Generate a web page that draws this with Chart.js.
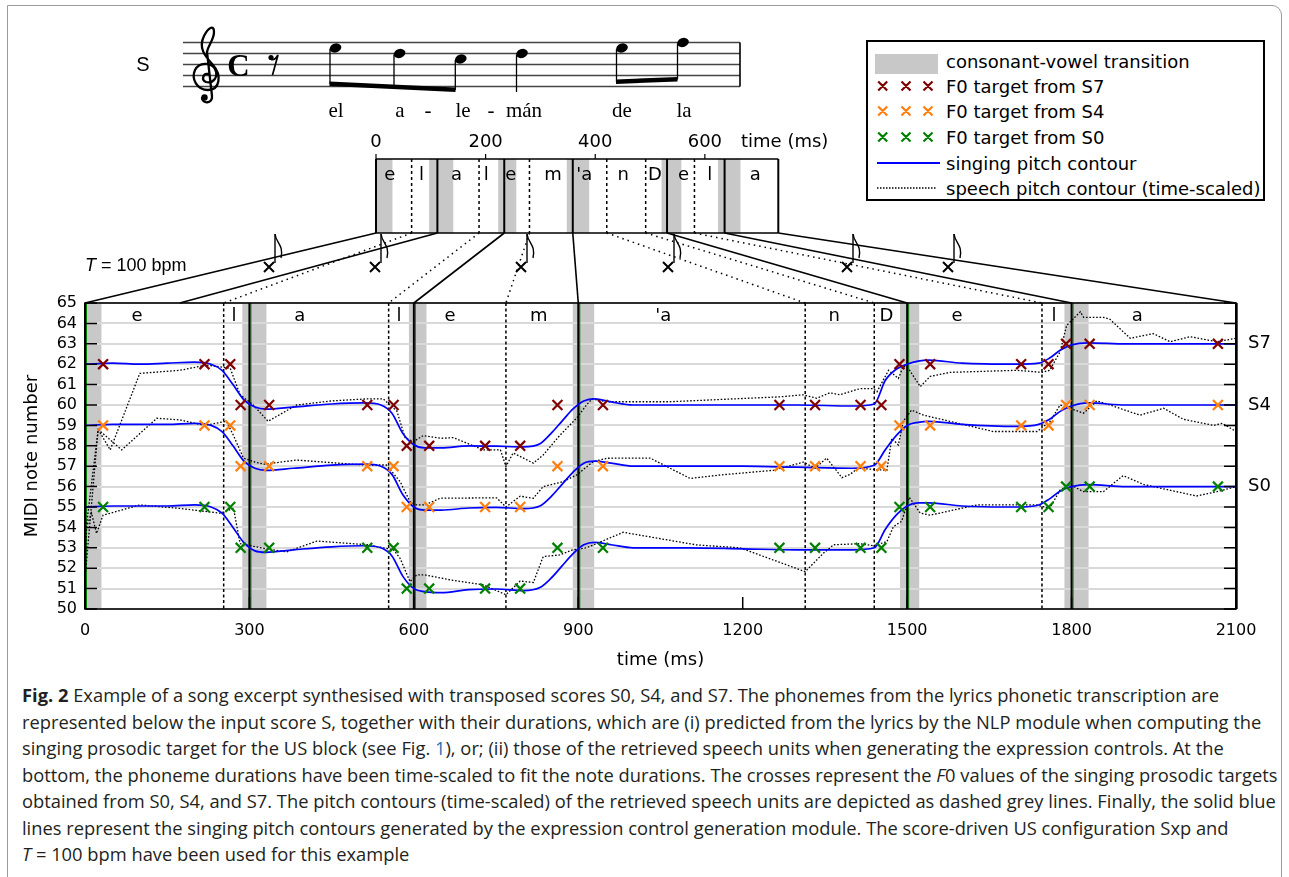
<!DOCTYPE html>
<html><head><meta charset="utf-8">
<script src="https://cdn.jsdelivr.net/npm/chart.js@4.4.1/dist/chart.umd.min.js"></script>
<style>
html,body{margin:0;padding:0;background:#fff;}
body{width:1289px;height:877px;position:relative;overflow:hidden;font-family:'DejaVu Sans',sans-serif;}
#frame{position:absolute;left:7px;top:5px;width:1275px;height:900px;border:1px solid #9a9a9a;border-top-right-radius:10px;box-sizing:border-box;}
#chart{position:absolute;left:0;top:0;}
#score{position:absolute;left:0;top:0;}
#legend{position:absolute;left:866px;top:40px;width:399px;height:161px;border:2px solid #000;box-sizing:border-box;background:#fff;}
#legend svg{position:absolute;left:0;top:0;}
#tempo{position:absolute;left:85px;top:254px;font-family:'Liberation Sans',Arial,sans-serif;font-size:18px;line-height:22px;white-space:nowrap;color:#000;}
#caption{position:absolute;left:22px;top:682px;font-family:'Open Sans',sans-serif;color:#231f20;font-size:15.5px;}
.cl{white-space:nowrap;height:26.5px;line-height:26.5px;}
.lnk{color:#2a6ebb;}
</style>
</head>
<body>
<div id="frame"></div>
<canvas id="chart" width="1289" height="680"></canvas>

<svg id="score" width="760" height="125" viewBox="0 0 760 125">
  <text x="143" y="64" font-family="Liberation Sans, Arial, sans-serif" font-size="20" text-anchor="middle" dominant-baseline="central">S</text>
  <g stroke="#444" stroke-width="1.3">
    <line x1="183" y1="42.5" x2="740" y2="42.5"/>
    <line x1="183" y1="53.5" x2="740" y2="53.5"/>
    <line x1="183" y1="64.5" x2="740" y2="64.5"/>
    <line x1="183" y1="75.5" x2="740" y2="75.5"/>
    <line x1="183" y1="86.5" x2="740" y2="86.5"/>
  </g>
  <line x1="740" y1="42.5" x2="740" y2="86.5" stroke="#000" stroke-width="1.6"/>
  <!-- treble clef -->
  <path d="M 208 74 C 203 73, 201 80, 206 82 C 213 84, 219 77, 215 69 C 211 62, 199 62, 195 70 C 191 79, 197 90, 208 90 C 220 90, 222 75, 213 65 C 205 56, 198 48, 204 36 C 208 28, 214 24, 214 32 C 214 40, 208 45, 207 52 L 212 96 C 213 104, 202 104, 202 98" fill="none" stroke="#000" stroke-width="2.3" stroke-linecap="round"/>
  <circle cx="204.5" cy="97.5" r="3.2" fill="#000"/>
  <text x="238.5" y="65" font-family="Liberation Serif, serif" font-weight="bold" font-size="31" text-anchor="middle" dominant-baseline="central">C</text>
  <!-- eighth rest -->
  <circle cx="271" cy="57.5" r="2.6" fill="#000"/>
  <path d="M 271 59.5 Q 275 60.5 278 55 L 272.5 75" fill="none" stroke="#000" stroke-width="1.7"/>
  <!-- notes -->
  <g fill="#000">
    <ellipse cx="335.5" cy="48" rx="6" ry="4.4" transform="rotate(-20 335.5 48)"/>
    <ellipse cx="399.6" cy="53.5" rx="6" ry="4.4" transform="rotate(-20 399.6 53.5)"/>
    <ellipse cx="460.8" cy="59" rx="6" ry="4.4" transform="rotate(-20 460.8 59)"/>
    <ellipse cx="522" cy="53.5" rx="6" ry="4.4" transform="rotate(-20 522 53.5)"/>
    <ellipse cx="622" cy="48" rx="6" ry="4.4" transform="rotate(-20 622 48)"/>
    <ellipse cx="683" cy="42.5" rx="6" ry="4.4" transform="rotate(-20 683 42.5)"/>
    <polygon points="329.5,81.5 455.5,87.5 455.5,92 329.5,86"/>
    <polygon points="616,79.5 677.5,77 677.5,81.5 616,84"/>
  </g>
  <g stroke="#000" stroke-width="1.3">
    <line x1="330" y1="49" x2="330" y2="84"/>
    <line x1="394" y1="54.5" x2="394" y2="87"/>
    <line x1="455.3" y1="60" x2="455.3" y2="90"/>
    <line x1="516.5" y1="54.5" x2="516.5" y2="92"/>
    <line x1="616.5" y1="49" x2="616.5" y2="82"/>
    <line x1="677.5" y1="43.5" x2="677.5" y2="79.5"/>
  </g>
  <g font-family="Liberation Serif, 'Times New Roman', serif" font-size="21" text-anchor="middle" dominant-baseline="central">
    <text x="336" y="110">el</text>
    <text x="400" y="110">a</text>
    <text x="428" y="110">-</text>
    <text x="463" y="110">le</text>
    <text x="491" y="110">-</text>
    <text x="524" y="110">mán</text>
    <text x="622" y="110">de</text>
    <text x="684" y="110">la</text>
  </g>
</svg>

<div id="tempo"><i>T</i> = 100 bpm</div>

<div id="legend">
  <svg width="395" height="157" viewBox="0 0 395 157">
    <rect x="7" y="12" width="63" height="20" fill="#c8c8c8"/>
    <g stroke-width="2.2" fill="none">
      <path d="M10.2 39.5 L19.2 48.5 M19.2 39.5 L10.2 48.5 M33.5 39.5 L42.5 48.5 M42.5 39.5 L33.5 48.5 M55.5 39.5 L64.5 48.5 M64.5 39.5 L55.5 48.5" stroke="#800000"/>
      <path d="M10.2 64.5 L19.2 73.5 M19.2 64.5 L10.2 73.5 M33.5 64.5 L42.5 73.5 M42.5 64.5 L33.5 73.5 M55.5 64.5 L64.5 73.5 M64.5 64.5 L55.5 73.5" stroke="#ff7f0e"/>
      <path d="M10.2 90.5 L19.2 99.5 M19.2 90.5 L10.2 99.5 M33.5 90.5 L42.5 99.5 M42.5 90.5 L33.5 99.5 M55.5 90.5 L64.5 99.5 M64.5 90.5 L55.5 99.5" stroke="#008000"/>
    </g>
    <line x1="9" y1="121" x2="72" y2="121" stroke="#0000ff" stroke-width="1.8"/>
    <line x1="9" y1="146" x2="69" y2="146" stroke="#000" stroke-width="1.3" stroke-dasharray="1.5,1.5"/>
    <g font-family="DejaVu Sans, sans-serif" font-size="18" fill="#000" dominant-baseline="central">
      <text x="78" y="19">consonant-vowel transition</text>
      <text x="78" y="44">F0 target from S7</text>
      <text x="78" y="69">F0 target from S4</text>
      <text x="78" y="95">F0 target from S0</text>
      <text x="78" y="121">singing pitch contour</text>
      <text x="78" y="146">speech pitch contour (time-scaled)</text>
    </g>
  </svg>
</div>

<div id="caption">
  <div class="cl"><b>Fig. 2</b> Example of a song excerpt synthesised with transposed scores S0, S4, and S7. The phonemes from the lyrics phonetic transcription are</div>
  <div class="cl" id="cl2">represented below the input score S, together with their durations, which are (i) predicted from the lyrics by the NLP module when computing the</div>
  <div class="cl">singing prosodic target for the US block (see Fig. <span class="lnk">1</span>), or; (ii) those of the retrieved speech units when generating the expression controls. At the</div>
  <div class="cl">bottom, the phoneme durations have been time-scaled to fit the note durations. The crosses represent the <i>F</i>0 values of the singing prosodic targets</div>
  <div class="cl">obtained from S0, S4, and S7. The pitch contours (time-scaled) of the retrieved speech units are depicted as dashed grey lines. Finally, the solid blue</div>
  <div class="cl">lines represent the singing pitch contours generated by the expression control generation module. The score-driven US configuration Sxp and</div>
  <div class="cl"><i>T</i> = 100 bpm have been used for this example</div>
</div>

<script>
// ---------------- DATA ----------------
const seriesNames = ['S7', 'S4', 'S0'];

// F0 targets (crosses)
const targetTimesMs = [33, 218, 265, 284, 336, 515, 563, 587, 628, 730, 794, 862, 945, 1267, 1332, 1415, 1453, 1486, 1542, 1708, 1758, 1790, 1833, 2067];
const targetS7 = [62, 62, 62, 60, 60, 60, 60, 58, 58, 58, 58, 60, 60, 60, 60, 60, 60, 62, 62, 62, 62, 63, 63, 63];
const targetS4 = [59, 59, 59, 57, 57, 57, 57, 55, 55, 55, 55, 57, 57, 57, 57, 57, 57, 59, 59, 59, 59, 60, 60, 60];
const targetS0 = [55, 55, 55, 53, 53, 53, 53, 51, 51, 51, 51, 53, 53, 53, 53, 53, 53, 55, 55, 55, 55, 56, 56, 56];

// singing pitch contours (blue)
const singTimesMs = [0, 50, 100, 150, 200, 230, 250, 270, 290, 310, 330, 380, 450, 510, 540, 560, 580, 600, 620, 650, 700, 750, 800, 830, 850, 870, 890, 910, 930, 960, 1000, 1100, 1200, 1300, 1400, 1440, 1460, 1480, 1500, 1520, 1540, 1600, 1700, 1740, 1760, 1780, 1800, 1830, 1900, 2000, 2100];
const singS7 = [62.0, 62.05, 62.0, 62.05, 62.1, 62.0, 61.7, 61.0, 60.25, 59.9, 59.8, 59.9, 60.05, 60.1, 60.0, 59.6, 58.6, 58.05, 57.9, 57.9, 58.0, 57.98, 57.95, 58.1, 58.6, 59.2, 59.8, 60.2, 60.3, 60.15, 60.0, 60.0, 60.0, 60.0, 59.95, 60.05, 61.2, 61.75, 62.0, 62.15, 62.2, 62.05, 62.0, 62.05, 62.3, 62.7, 62.95, 63.05, 63.0, 63.0, 63.0];
const singS4 = [59.0, 59.05, 59.05, 59.05, 59.1, 59.0, 58.7, 58.0, 57.25, 56.9, 56.8, 56.9, 57.05, 57.1, 57.0, 56.6, 55.6, 55.0, 54.85, 54.85, 54.95, 54.98, 54.92, 55.05, 55.5, 56.1, 56.7, 57.15, 57.25, 57.15, 57.0, 57.0, 57.0, 56.95, 56.9, 57.05, 57.8, 58.5, 59.0, 59.15, 59.2, 59.05, 58.95, 59.05, 59.3, 59.7, 59.95, 60.1, 60.0, 60.0, 60.0];
const singS0 = [55.0, 55.05, 55.05, 55.05, 55.1, 55.0, 54.7, 54.0, 53.25, 52.85, 52.78, 52.9, 53.05, 53.1, 53.0, 52.6, 51.6, 51.0, 50.85, 50.8, 50.95, 50.98, 50.9, 51.05, 51.5, 52.1, 52.7, 53.15, 53.27, 53.15, 53.0, 53.0, 52.95, 52.9, 52.9, 53.0, 53.9, 54.6, 55.05, 55.2, 55.2, 55.05, 55.0, 55.1, 55.4, 55.8, 56.0, 56.1, 56.0, 56.0, 56.0];

// speech pitch contours (time-scaled, dotted)
const speechTimesS7 = [0, 24, 46, 100, 173, 222, 265, 283, 307, 334, 386, 450, 514, 544, 569, 584, 599, 617, 650, 672, 727, 758, 768, 781, 818, 836, 866, 897, 915, 925, 952, 1067, 1268, 1310, 1335, 1359, 1377, 1414, 1438, 1445, 1466, 1484, 1493, 1502, 1524, 1542, 1578, 1700, 1746, 1760, 1779, 1791, 1804, 1816, 1822, 1858, 1870, 1907, 1949, 1980, 2016, 2065, 2100];
const speechS7 = [51.5, 58.8, 57.8, 61.55, 61.7, 61.96, 61.8, 60.5, 60.0, 59.2, 60.0, 60.2, 60.3, 60.3, 59.7, 58.4, 58.2, 58.5, 58.37, 58.4, 57.8, 57.8, 56.98, 57.65, 57.15, 57.55, 58.5, 59.36, 60.0, 60.3, 60.16, 60.16, 60.4, 60.5, 60.33, 60.6, 60.5, 60.8, 60.8, 60.65, 61.7, 61.3, 61.9, 61.8, 60.9, 61.4, 61.6, 61.7, 61.6, 61.7, 62.6, 63.9, 64.25, 64.57, 64.3, 64.3, 64.2, 63.27, 63.5, 63.1, 63.35, 63.1, 63.27];
const speechTimesS4 = [0, 24, 67, 131, 173, 218, 258, 271, 289, 310, 327, 386, 508, 550, 575, 593, 605, 620, 648, 751, 768, 794, 818, 836, 872, 897, 927, 952, 1031, 1104, 1159, 1256, 1311, 1332, 1353, 1381, 1396, 1410, 1463, 1472, 1484, 1493, 1508, 1530, 1578, 1657, 1737, 1761, 1779, 1822, 1846, 1870, 1925, 1968, 2004, 2059, 2075, 2100];
const speechS4 = [53.5, 58.8, 57.8, 59.35, 59.27, 59.0, 59.2, 58.5, 57.4, 57.2, 57.1, 57.3, 57.06, 57.06, 56.24, 55.26, 55.1, 55.1, 55.43, 55.45, 55.0, 55.53, 55.43, 56.0, 56.24, 56.57, 57.22, 57.39, 57.4, 56.4, 56.57, 56.8, 57.2, 56.9, 57.4, 56.44, 56.6, 56.9, 56.8, 58.37, 58.04, 59.2, 59.75, 59.5, 59.2, 58.7, 58.7, 59.2, 60.0, 59.6, 60.2, 60.0, 59.5, 59.84, 59.3, 59.0, 59.1, 58.7];
const speechTimesS0 = [0, 3, 12, 21, 33, 100, 173, 246, 271, 283, 327, 368, 423, 514, 563, 575, 593, 605, 620, 672, 727, 768, 794, 818, 836, 866, 890, 915, 982, 1116, 1195, 1314, 1347, 1366, 1414, 1438, 1463, 1475, 1490, 1504, 1524, 1542, 1627, 1737, 1760, 1779, 1797, 1822, 1858, 1894, 1932, 2028, 2065, 2100];
const speechS0 = [51.5, 54.04, 54.7, 53.7, 54.6, 55.1, 54.93, 54.7, 54.93, 53.2, 52.97, 52.8, 53.33, 53.15, 52.9, 52.48, 51.34, 51.67, 51.67, 51.4, 51.18, 50.7, 51.37, 51.3, 52.57, 52.65, 52.9, 53.0, 53.76, 53.14, 53.0, 51.83, 52.73, 53.15, 53.2, 53.1, 53.3, 54.04, 54.3, 55.47, 54.7, 54.6, 55.1, 55.1, 54.93, 55.83, 56.1, 55.75, 55.75, 56.54, 56.1, 55.54, 55.75, 56.0];

// time-scaled phoneme segmentation (main plot)
const noteOnsetsMs = [0, 300, 600, 900, 1500, 1800, 2100];
const phonemeBoundsMs = [253, 554, 768, 1314, 1440, 1746];
const cvBandStartMs = [0, 287, 591, 890, 1487, 1787];
const cvBandEndMs = [30, 331, 623, 929, 1522, 1831];
const phonemeLabels = ['e', 'l', 'a', 'l', 'e', 'm', "'a", 'n', 'D', 'e', 'l', 'a'];
const phonemeLabelMs = [95, 272, 392, 573, 666, 828, 1055, 1367, 1462, 1591, 1768, 1920];

// original (speech) phoneme durations box
const boxSegBoundsMs = [0, 112, 234, 359, 531, 636, 734];
const boxPhonBoundsMs = [65, 188, 280, 421, 492, 581];
const boxBandStartMs = [0, 97, 112, 223, 234, 348, 359, 521, 532, 624, 635];
const boxBandEndMs = [30, 112, 141, 234, 256, 359, 389, 532, 557, 635, 665];
const boxLabelMs = [25, 83, 147, 201, 246, 323, 380, 451, 509, 561, 609, 692];
const boxTickMs = [0, 200, 400, 600];
// links from the box to the time-scaled plot
const solidLinkToMs = [0, 173, 600, 900, 1500, 1800, 2100];
const dottedLinkToMs = [253, 554, 768, 1314, 1440, 1746];

// axis ticks
const yMin = 50, yMax = 65, xMin = 0, xMax = 2100, xStep = 300;

// ---------------- LAYOUT CONSTANTS ----------------
const BOX_LEFT = 376, BOX_TOP = 159, BOX_BOTTOM = 233;
const NOTE_SYM_X = [269, 375, 521, 668, 847, 948], NOTE_SYM_Y = 267;

const colT = ['#800000', '#ff7f0e', '#008000'];
const targets = [targetS7, targetS4, targetS0];
const sings = [singS7, singS4, singS0];
const speeches = [[speechTimesS7, speechS7], [speechTimesS4, speechS4], [speechTimesS0, speechS0]];

const datasets = [];
targets.forEach((vals, i) => datasets.push({
  label: 'F0 target from ' + seriesNames[i],
  data: targetTimesMs.map((t, j) => ({x: t, y: vals[j]})),
  showLine: false, pointStyle: 'crossRot', pointRadius: 7, pointBorderWidth: 2.2,
  borderColor: colT[i], backgroundColor: colT[i], pointBorderColor: colT[i], order: 0
}));
sings.forEach((vals, i) => datasets.push({
  label: 'singing ' + seriesNames[i],
  data: singTimesMs.map((t, j) => ({x: t, y: vals[j]})),
  borderColor: '#0000ff', borderWidth: 1.7, pointRadius: 0,
  cubicInterpolationMode: 'monotone', fill: false, order: 1
}));
speeches.forEach((pair, i) => datasets.push({
  label: 'speech ' + seriesNames[i],
  data: pair[0].map((t, j) => ({x: t, y: pair[1][j]})),
  borderColor: '#000', borderWidth: 1.3, borderDash: [1.6, 1.8], pointRadius: 0,
  tension: 0, fill: false, order: 2
}));

const decoPlugin = {
  id: 'deco',
  beforeDraw(chart) {
    const ctx = chart.ctx, a = chart.chartArea, X = v => chart.scales.x.getPixelForValue(v);
    ctx.save();
    ctx.fillStyle = '#c8c8c8';
    cvBandStartMs.forEach((s, i) => ctx.fillRect(X(s), a.top, X(cvBandEndMs[i]) - X(s), a.bottom - a.top));
    ctx.restore();
  },
  beforeDatasetsDraw(chart) {
    const ctx = chart.ctx, a = chart.chartArea, X = v => chart.scales.x.getPixelForValue(v);
    ctx.save();
    ctx.strokeStyle = '#000'; ctx.lineWidth = 1.5; ctx.setLineDash([3, 2.5]);
    phonemeBoundsMs.forEach(ms => { ctx.beginPath(); ctx.moveTo(X(ms), a.top); ctx.lineTo(X(ms), a.bottom); ctx.stroke(); });
    ctx.setLineDash([]);
    ctx.strokeStyle = '#008000'; ctx.lineWidth = 1;
    noteOnsetsMs.forEach(ms => { ctx.beginPath(); ctx.moveTo(X(ms) + 1.5, a.top); ctx.lineTo(X(ms) + 1.5, a.bottom); ctx.stroke(); });
    ctx.strokeStyle = '#000'; ctx.lineWidth = 2;
    noteOnsetsMs.forEach(ms => { ctx.beginPath(); ctx.moveTo(X(ms), a.top); ctx.lineTo(X(ms), a.bottom); ctx.stroke(); });
    ctx.restore();
  },
  afterDatasetsDraw(chart) {
    const ctx = chart.ctx, a = chart.chartArea;
    const X = v => chart.scales.x.getPixelForValue(v), Y = v => chart.scales.y.getPixelForValue(v);
    ctx.save();
    // inside ticks
    ctx.strokeStyle = '#000'; ctx.lineWidth = 1.5;
    for (let v = yMin; v <= yMax; v++) {
      ctx.beginPath(); ctx.moveTo(a.left, Y(v)); ctx.lineTo(a.left + 12, Y(v));
      ctx.moveTo(a.right, Y(v)); ctx.lineTo(a.right - 12, Y(v)); ctx.stroke();
    }
    for (let t = xMin; t <= xMax; t += xStep) {
      ctx.beginPath(); ctx.moveTo(X(t), a.bottom); ctx.lineTo(X(t), a.bottom - 12); ctx.stroke();
    }
    // frame
    ctx.lineWidth = 1.6;
    ctx.strokeRect(a.left, a.top, a.right - a.left, a.bottom - a.top);
    // phoneme labels
    ctx.fillStyle = '#000'; ctx.font = '18px "DejaVu Sans"'; ctx.textAlign = 'center'; ctx.textBaseline = 'middle';
    phonemeLabels.forEach((p, i) => ctx.fillText(p, X(phonemeLabelMs[i]), a.top + 13));
    // series labels
    ctx.textAlign = 'left';
    sings.forEach((vals, i) => ctx.fillText(seriesNames[i], a.right + 12, Y(vals[vals.length - 1])));
    ctx.restore();
  },
  afterDraw(chart) {
    const ctx = chart.ctx, a = chart.chartArea, X = v => chart.scales.x.getPixelForValue(v);
    const k = (X(xMax) - X(xMin)) / (xMax - xMin);
    const bx = ms => BOX_LEFT + ms * k;
    ctx.save();
    // box bands
    ctx.fillStyle = '#c8c8c8';
    boxBandStartMs.forEach((s, i) => ctx.fillRect(bx(s), BOX_TOP, bx(boxBandEndMs[i]) - bx(s), BOX_BOTTOM - BOX_TOP));
    // dashed phoneme boundaries
    ctx.strokeStyle = '#000'; ctx.lineWidth = 1.5; ctx.setLineDash([3, 3]);
    boxPhonBoundsMs.forEach(ms => { ctx.beginPath(); ctx.moveTo(bx(ms), BOX_TOP); ctx.lineTo(bx(ms), BOX_BOTTOM); ctx.stroke(); });
    // dotted links
    ctx.setLineDash([1.5, 4]); ctx.lineWidth = 1.5;
    boxPhonBoundsMs.forEach((ms, i) => { ctx.beginPath(); ctx.moveTo(bx(ms), BOX_BOTTOM); ctx.lineTo(X(dottedLinkToMs[i]), a.top); ctx.stroke(); });
    ctx.setLineDash([]);
    // solid segment boundaries + links
    boxSegBoundsMs.forEach((ms, i) => {
      ctx.lineWidth = 2;
      ctx.beginPath(); ctx.moveTo(bx(ms), BOX_TOP); ctx.lineTo(bx(ms), BOX_BOTTOM); ctx.stroke();
      ctx.lineWidth = 1.6;
      ctx.beginPath(); ctx.moveTo(bx(ms), BOX_BOTTOM); ctx.lineTo(X(solidLinkToMs[i]), a.top); ctx.stroke();
    });
    const last = boxSegBoundsMs[boxSegBoundsMs.length - 1];
    ctx.lineWidth = 1.6;
    ctx.beginPath(); ctx.moveTo(bx(0), BOX_TOP); ctx.lineTo(bx(last), BOX_TOP);
    ctx.moveTo(bx(0), BOX_BOTTOM); ctx.lineTo(bx(last), BOX_BOTTOM); ctx.stroke();
    // box ticks + labels
    ctx.lineWidth = 1.2;
    ctx.fillStyle = '#000'; ctx.font = '18px "DejaVu Sans"'; ctx.textAlign = 'center'; ctx.textBaseline = 'middle';
    boxTickMs.forEach(ms => {
      ctx.beginPath(); ctx.moveTo(bx(ms), BOX_TOP); ctx.lineTo(bx(ms), BOX_TOP - 5); ctx.stroke();
      ctx.fillText(String(ms), bx(ms), 142);
    });
    ctx.textAlign = 'left';
    ctx.fillText('time (ms)', 741, 142);
    ctx.textAlign = 'center';
    phonemeLabels.forEach((p, i) => ctx.fillText(p, bx(boxLabelMs[i]), 175));
    // x-headed eighth notes
    NOTE_SYM_X.forEach(x => {
      const y = NOTE_SYM_Y;
      ctx.lineWidth = 2;
      ctx.beginPath(); ctx.moveTo(x - 5, y - 5); ctx.lineTo(x + 5, y + 5); ctx.moveTo(x + 5, y - 5); ctx.lineTo(x - 5, y + 5); ctx.stroke();
      ctx.lineWidth = 1.4;
      ctx.beginPath(); ctx.moveTo(x + 6, y - 4); ctx.lineTo(x + 6, 234); ctx.stroke();
      ctx.beginPath(); ctx.moveTo(x + 6, 234); ctx.bezierCurveTo(x + 7, 243, x + 15, 245, x + 12, 258); ctx.stroke();
    });
    ctx.restore();
  }
};

new Chart(document.getElementById('chart'), {
  type: 'line',
  data: {datasets},
  options: {
    responsive: false, animation: false, devicePixelRatio: 1, events: [],
    layout: {padding: {top: 303, right: 53, left: 0, bottom: 0}},
    plugins: {legend: {display: false}, tooltip: {enabled: false}},
    scales: {
      x: {
        type: 'linear', min: xMin, max: xMax,
        ticks: {stepSize: xStep, autoSkip: false, color: '#000', font: {family: 'DejaVu Sans', size: 16}, padding: 12, maxRotation: 0,
                callback: v => String(v)},
        grid: {display: false, drawTicks: false}, border: {display: false},
        title: {display: true, text: 'time (ms)', color: '#000', font: {family: 'DejaVu Sans', size: 18}, padding: {top: 0, bottom: 9}},
        afterFit: s => { s.height = 71; }
      },
      y: {
        min: yMin, max: yMax,
        ticks: {stepSize: 1, autoSkip: false, color: '#000', font: {family: 'DejaVu Sans', size: 16}, padding: 8,
                callback: v => String(v)},
        grid: {color: '#d9d9d9', lineWidth: 2, drawTicks: false}, border: {display: false},
        title: {display: true, text: 'MIDI note number', color: '#000', font: {family: 'DejaVu Sans', size: 18}, padding: {top: 22, bottom: 0}},
        afterFit: s => { s.width = 85; }
      }
    }
  },
  plugins: [decoPlugin]
});

// fit caption font so lines span like the reference
function fitCaption() {
  const cap = document.getElementById('caption');
  const ref = document.getElementById('cl2');
  cap.style.fontSize = '15.5px';
  ref.style.display = 'inline-block';
  const w = ref.getBoundingClientRect().width;
  ref.style.display = '';
  if (w > 0) cap.style.fontSize = (15.5 * 1240 / w).toFixed(2) + 'px';
}
fitCaption();
if (document.fonts && document.fonts.ready) document.fonts.ready.then(fitCaption);
</script>
</body></html>
